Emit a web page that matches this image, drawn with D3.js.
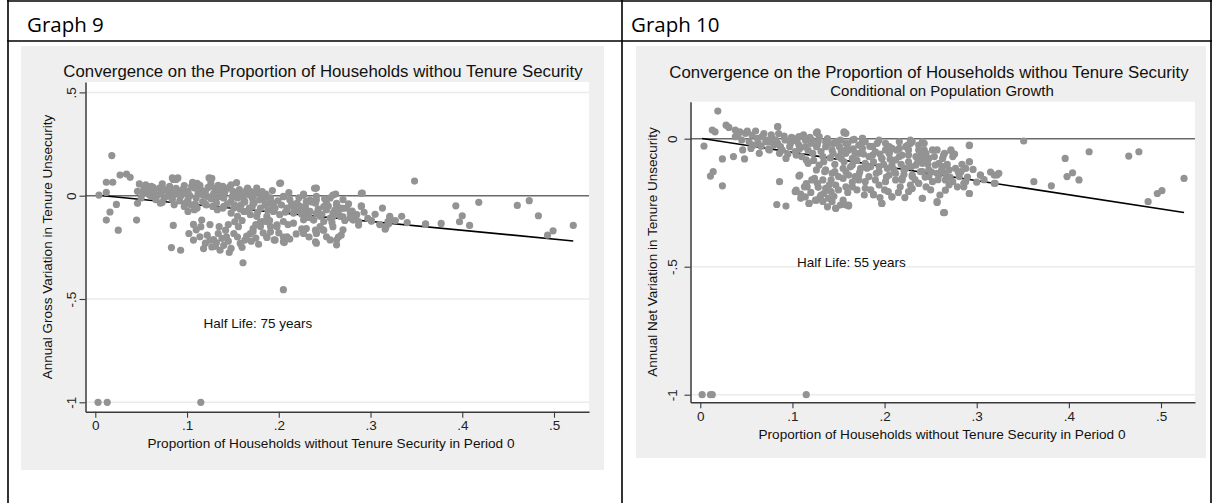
<!DOCTYPE html>
<html><head><meta charset="utf-8">
<script src="https://cdn.jsdelivr.net/npm/d3@7"></script>
<style>body{margin:0;background:#fff}svg{display:block}</style>
</head><body><svg id="c" width="1217" height="503"></svg>
<script>
const headers = ["Graph 9", "Graph 10"];
const chartTitle = "Convergence on the Proportion of Households withou Tenure Security";
const g10Subtitle = "Conditional on Population Growth";
const xTitle = "Proportion of Households without Tenure Security in Period 0";
const g9YTitle = "Annual Gross Variation in Tenure Unsecurity";
const g10YTitle = "Annual Net Variation in Tenure Unsecurity";
const xTicks = [0, .1, .2, .3, .4, .5];
const xTickLabels = ["0", ".1", ".2", ".3", ".4", ".5"];
const g9YTicks = [.5, 0, -.5, -1];
const g9YTickLabels = [".5", "0", "-.5", "-1"];
const g10YTicks = [0, -.5, -1];
const g10YTickLabels = ["0", "-.5", "-1"];
const g9Note = ["Half Life: 75 years", .118, -.618];
const g10Note = ["Half Life: 55 years", .105, -.484];
const g9Fit = [[.003, .002], [.521, -.219]];
const g10Fit = [[.002, .001], [.525, -.288]];

const g9Points = [
[.018,.194],[.004,.003],[.012,.065],[.019,.065],[.027,.100],[.034,.105],[.038,.089],[.012,.016],[.023,-.042],[.016,-.079],[.012,-.118],[.025,-.167],[.045,-.118],[.046,-.037],[.073,-.032],[.085,.079],[.088,.079],[.085,-.144],[.083,-.251],[.093,-.264],[.107,-.139],[.116,-.118],[.102,-.183],[.107,-.215],[.114,-.199],[.122,-.191],[.111,.060],[.125,.084],[.127,.084],
[.118,-.256],[.127,-.248],[.132,-.228],[.136,-.264],[.146,-.275],[.138,-.207],[.129,-.212],[.134,-.183],[.142,-.167],[.143,-.199],[.151,-.183],[.152,-.126],[.156,-.150],[.158,-.231],[.163,-.215],[.169,-.183],[.172,-.159],[.161,-.325],
[.154,.063],[.156,-.005],[.165,.028],[.172,-.005],[.180,.011],[.189,-.037],[.187,-.005],[.194,-.053],[.201,.060],[.205,-.005],[.209,-.070],[.216,-.053],[.227,.003],[.230,-.070],[.234,-.021],[.240,.036],[.241,-.086],
[.187,-.199],[.191,-.175],[.196,-.215],[.205,-.223],[.209,-.199],[.187,-.126],[.198,-.150],[.180,-.126],[.227,-.183],[.230,-.159],[.240,-.167],[.240,-.223],
[.205,-.455],
[.202,.061],[.241,.037],[.262,.008],[.291,.013],[.227,.008],[.176,.037],[.186,.008],[.290,-.052],[.285,-.092],[.278,-.108],[.287,-.125],[.301,-.121],[.321,-.100],[.319,-.125],[.316,-.162],[.360,-.136],[.241,-.181],[.256,-.214],[.265,-.200],[.263,-.238],[.241,-.230],[.248,-.165],[.187,-.202],[.195,-.214],[.205,-.200],[.206,-.227],[.270,-.165],[.172,-.173],[.180,-.149],
[.267,-.100],[.259,-.084],[.252,-.068],[.245,-.100],[.238,-.117],[.234,-.076],[.223,-.052],[.216,-.084],[.209,-.060],[.201,-.092],[.194,-.076],[.187,-.100],[.180,-.060],[.212,-.019],[.220,-.036],[.230,-.028],[.240,-.036],[.252,-.036],[.263,-.044],[.270,-.019],[.274,-.060],[.256,-.108],[.249,-.125],[.227,-.117],[.216,-.133],[.205,-.125],[.198,-.141],[.191,-.149],[.183,-.125],[.176,-.100],[.172,-.036],[.171,-.003],[.183,-.019],[.194,-.036],[.205,-.003],[.256,-.011],[.241,-.003],[.267,-.060],
[.048,.057],[.055,.053],[.061,.045],[.073,.057],[.084,.086],[.090,.086],[.097,.049],[.106,.065],[.124,.086],[.126,.061],[.139,.045],[.148,.053],[.166,.037],
[.046,.021],[.052,.013],[.057,.029],[.064,.021],[.070,.037],[.077,.029],[.082,.021],[.090,.013],[.095,.029],[.101,.021],[.108,.037],[.115,.029],[.120,.021],[.130,.037],[.135,.021],[.142,.029],[.150,.021],[.157,.029],[.162,.013],[.169,.021],
[.050,-.011],[.061,-.003],[.066,-.019],[.075,-.011],[.084,-.019],[.093,-.003],[.101,-.019],[.110,-.011],[.117,-.028],[.122,-.003],[.131,-.019],[.140,-.011],[.148,-.028],[.155,-.011],[.162,-.019],[.171,-.011],
[.071,-.036],[.086,-.044],[.097,-.052],[.104,-.044],[.111,-.060],[.119,-.036],[.128,-.052],[.133,-.068],[.140,-.052],[.151,-.060],[.159,-.044],[.168,-.060],[.173,-.036],[.148,-.084],[.155,-.100],[.162,-.076],[.169,-.092],[.108,-.068],[.101,-.076],
[.348,.071],[.393,-.049],[.418,-.032],[.400,-.097],[.397,-.126],[.408,-.144],[.360,-.139],[.377,-.134],[.460,-.047],[.473,-.024],[.483,-.097],[.493,-.191],[.499,-.170],[.521,-.144],[.320,-.134],[.301,-.123],[.290,-.049],[.290,.011],[.317,-.150],[.321,-.107],
[.227,.003],[.239,.036],[.241,-.021],[.249,-.053],[.259,.003],[.263,-.037],[.270,-.061],[.278,-.086],[.281,-.118],[.287,-.142],[.259,-.150],[.252,-.199],[.263,-.215],[.268,-.191],[.241,-.183],[.249,-.167],[.230,-.094],[.238,-.118],[.223,-.070],[.270,-.102],[.259,-.102],
[.053,.035],[.059,.005],[.063,.040],[.068,.003],[.072,.015],[.079,-.002],[.081,.045],[.086,.005],[.088,.035],[.092,-.025],[.096,.010],[.099,-.035],[.103,.000],[.105,.045],[.109,-.040],[.112,.010],[.114,.050],[.117,.005],[.121,-.045],[.123,.040],[.126,-.015],[.129,.010],[.132,-.035],[.134,.050],[.137,-.005],[.139,-.060],[.141,.015],[.144,-.040],[.146,.040],[.149,-.005],[.152,-.045],[.154,.010],[.158,-.065],[.160,.000],[.163,-.030],[.166,-.075],[.168,.005],[.171,-.055],[.174,.015],[.177,-.080],[.179,-.020],[.182,.020],[.185,-.045],[.188,-.070],[.191,-.010],[.193,.025],[.196,-.060],[.199,-.025],[.203,-.045],[.207,-.080],[.211,.015],[.214,-.040],[.218,-.070],[.222,-.010],[.225,-.090],[.229,-.050],[.233,-.105],[.236,-.030],[.243,-.065],[.247,-.090],[.250,-.015],[.254,-.050],[.258,-.130],[.261,-.070],[.265,-.085],[.272,-.120],[.276,-.040],[.280,-.075],[.283,-.100],[.293,-.080],[.297,-.110],[.305,-.090],[.310,-.140],[.313,-.060],[.327,-.120],[.334,-.100],[.340,-.130],
[.120,-.230],[.125,-.215],[.131,-.245],[.140,-.240],[.145,-.220],[.148,-.255],[.155,-.200],[.160,-.250],[.165,-.195],[.170,-.220],[.175,-.205],[.178,-.235],[.183,-.180],[.200,-.180],[.212,-.210],[.219,-.185],[.225,-.160],[.233,-.200],[.245,-.150],[.110,-.165],[.115,-.150],[.125,-.140],[.135,-.150],[.145,-.140],[.160,-.120],[.175,-.140],[.190,-.120],[.210,-.140],
[.003,-1],[.013,-1],[.115,-1]
];

const g10Points = [
[.019,.108],[.013,.034],[.016,.027],[.004,-.029],[.024,-.079],[.011,-.146],[.014,-.129],[.024,-.184],[.028,.053],[.031,.044],[.036,-.070],[.046,-.044],[.048,-.079],[.055,-.038],[.084,.047],[.086,-.168],[.083,-.257],[.093,-.263],[.107,-.146],[.103,-.207],[.109,-.216],[.114,-.227],[.116,-.188],[.121,-.161],[.127,-.174],[.118,-.253],[.125,-.240],[.130,-.227],[.134,-.214],[.136,-.194],[.139,-.233],[.143,-.246],[.147,-.272],[.152,-.259],[.161,-.259],[.156,.027],[.107,-.025],[.114,-.031],[.121,-.005],[.129,.008],[.136,-.012],[.127,.027],[.143,-.044],[.150,-.070],[.158,-.057],[.165,-.077],[.172,-.057],[.176,.001],
[.038,.034],[.043,.027],[.049,.021],[.056,.014],[.062,.001],[.067,.008],[.072,-.005],[.078,.001],[.038,.008],[.045,-.005],[.053,-.012],[.063,-.018],[.071,-.012],[.080,-.025],[.087,-.031],[.092,-.005],[.098,-.018],[.101,.001],[.107,.008],[.114,-.005],[.120,-.018],[.127,-.025],[.136,-.031],[.145,-.018],[.152,-.005],[.158,-.018],[.165,-.005],[.172,-.025],[.179,-.012],[.187,-.031],[.194,-.005],[.201,-.018],[.208,-.038],[.216,-.012],[.223,-.031],[.230,-.012],[.237,-.025],[.243,-.044],
[.187,-.064],[.197,-.077],[.205,-.057],[.216,-.070],[.226,-.064],[.237,-.083],[.243,-.077],[.179,-.096],[.194,-.109],[.208,-.103],[.223,-.116],[.234,-.103],[.241,-.129],[.205,-.142],[.219,-.161],[.230,-.148],[.237,-.174],[.188,-.220],[.197,-.253],[.208,-.227],[.217,-.188],[.226,-.207],[.179,-.168],[.168,-.148],[.158,-.129],[.150,-.148],[.143,-.135],[.136,-.122],[.129,-.103],[.228,-.005],
[.158,.021],[.167,-.003],[.176,.001],[.176,-.012],[.228,-.018],[.243,-.018],[.292,-.025],[.265,-.057],[.272,-.044],[.274,-.070],[.263,-.077],[.292,-.090],[.288,-.116],[.281,-.148],[.286,-.174],[.292,-.214],[.304,-.142],[.319,-.142],[.324,-.135],[.319,-.174],[.241,-.233],[.257,-.246],[.265,-.289],[.161,-.263],[.197,-.253],[.188,-.217],[.208,-.227],[.204,-.207],
[.179,-.194],[.194,-.181],[.245,-.188],[.252,-.168],[.266,-.201],[.274,-.168],[.279,-.188],[.266,-.161],[.259,-.142],[.248,-.148],[.237,-.174],[.228,-.181],[.219,-.155],[.212,-.161],[.201,-.168],[.190,-.161],[.172,-.161],[.165,-.188],
[.161,-.044],[.168,-.057],[.176,-.038],[.183,-.070],[.190,-.051],[.197,-.077],[.205,-.057],[.212,-.083],[.219,-.064],[.226,-.090],[.234,-.070],[.241,-.096],[.248,-.077],[.255,-.103],[.263,-.109],[.270,-.122],[.277,-.116],[.283,-.129],[.165,-.103],[.174,-.116],[.185,-.109],[.194,-.129],[.203,-.116],[.212,-.135],[.221,-.122],[.230,-.142],[.239,-.129],[.248,-.122],[.257,-.135],[.266,-.135],[.161,-.142],[.172,-.142],[.183,-.148],[.237,-.044],[.245,-.057],[.252,-.044],[.259,-.096],[.205,-.031],[.216,-.038],[.226,-.044],[.192,-.018],[.201,-.044],
[.108,-.142],[.117,-.096],[.113,-.188],[.104,-.201],[.109,-.233],[.118,-.253],[.126,-.240],[.131,-.220],[.137,-.201],[.142,-.207],[.147,-.181],[.138,-.266],[.147,-.272],[.158,-.259],[.124,-.155],[.133,-.161],[.142,-.161],[.155,-.155],[.158,-.188],[.126,-.122],[.135,-.129],[.146,-.129],[.155,-.116],
[.064,-.057],[.075,-.044],[.086,-.057],[.093,-.077],[.104,-.064],[.115,-.083],[.122,-.057],[.133,-.070],[.144,-.057],[.153,-.077],[.126,-.031],[.140,-.018],[.151,-.031],[.158,-.044],[.108,-.038],[.097,-.031],[.084,-.018],[.075,-.012],[.156,.023],[.126,.023],[.084,.047],
[.351,-.009],[.396,-.077],[.422,-.051],[.398,-.148],[.404,-.133],[.411,-.161],[.362,-.168],[.381,-.184],[.465,-.068],[.476,-.051],[.486,-.246],[.496,-.214],[.501,-.203],[.525,-.155],[.304,-.142],[.322,-.142],[.320,-.174],[.292,-.027],[.292,-.090],[.292,-.214],[.286,-.188],[.288,-.168],[.272,-.047],[.264,-.064],[.257,-.044],[.241,-.012],[.228,-.018],[.264,-.289],[.257,-.249],[.241,-.233],
[.041,.015],[.051,.030],[.058,-.025],[.060,.030],[.066,-.030],[.069,.020],[.074,-.040],[.077,.015],[.082,-.005],[.085,.020],[.089,-.045],[.091,.010],[.095,-.060],[.099,.005],[.103,-.050],[.105,-.010],[.110,-.070],[.112,.015],[.117,-.045],[.119,.005],[.123,-.085],[.128,-.010],[.131,-.050],[.134,-.090],[.138,.000],[.141,-.075],[.146,-.100],[.148,-.010],[.153,-.050],[.156,-.090],[.160,-.020],[.163,-.110],[.166,-.040],[.170,-.085],[.173,-.130],[.177,-.060],[.181,-.115],[.184,-.030],[.188,-.090],[.191,-.135],[.195,-.060],[.199,-.100],[.202,-.150],[.206,-.080],[.210,-.120],[.213,-.045],[.218,-.100],[.221,-.140],[.225,-.025],[.229,-.110],[.233,-.160],[.236,-.090],[.240,-.060],[.244,-.150],[.247,-.100],[.251,-.130],[.254,-.070],[.258,-.160],[.262,-.120],[.268,-.100],[.271,-.150],[.276,-.060],[.280,-.130],[.284,-.100],[.290,-.150],[.296,-.120],[.300,-.170],[.308,-.160],[.315,-.130],
[.115,-.175],[.120,-.210],[.128,-.190],[.133,-.245],[.140,-.180],[.145,-.225],[.150,-.200],[.155,-.240],[.160,-.210],[.165,-.170],[.170,-.200],[.178,-.220],[.185,-.200],[.195,-.230],[.200,-.200],[.215,-.210],[.222,-.230],[.230,-.195],[.250,-.200],[.260,-.220],[.270,-.180],
[.002,-1],[.011,-1],[.013,-1],[.115,-1]
];

const svg = d3.select("#c");
const FONT = "'Liberation Sans', Arial, Helvetica, sans-serif";

// table frame
const frame = svg.append("g").attr("stroke", "#000").attr("stroke-width", 1.6);
frame.append("line").attr("x1", 7).attr("x2", 1212).attr("y1", 1).attr("y2", 1);
frame.append("line").attr("x1", 7).attr("x2", 1212).attr("y1", 41).attr("y2", 41);
frame.append("line").attr("x1", 8).attr("x2", 8).attr("y1", 0).attr("y2", 503);
frame.append("line").attr("x1", 622).attr("x2", 622).attr("y1", 0).attr("y2", 503);
frame.append("line").attr("x1", 1211).attr("x2", 1211).attr("y1", 0).attr("y2", 503);
svg.selectAll("text.hdr").data(headers).join("text").attr("class", "hdr")
  .attr("x", (d, i) => i ? 631 : 27).attr("y", 32)
  .attr("font-family", "'Open Sans', 'Noto Sans', sans-serif").attr("font-size", 20.5).attr("fill", "#000")
  .text(d => d);

function panel(cfg) {
  const g = svg.append("g");
  g.append("rect").attr("x", cfg.bg[0]).attr("y", cfg.bg[1]).attr("width", cfg.bg[2]).attr("height", cfg.bg[3]).attr("fill", "#efefef");
  const x = d3.scaleLinear().domain([0, .5]).range(cfg.xr);
  x.domain([x.invert(cfg.plot.l), x.invert(cfg.plot.r)]).range([cfg.plot.l, cfg.plot.r]);
  const y = d3.scaleLinear().domain([0, -1]).range(cfg.yr);
  y.domain([y.invert(cfg.plot.b), y.invert(cfg.plot.t)]).range([cfg.plot.b, cfg.plot.t]);
  g.append("rect").attr("x", cfg.plot.l).attr("y", cfg.plot.t).attr("width", cfg.plot.r - cfg.plot.l).attr("height", cfg.plot.b - cfg.plot.t).attr("fill", "#fff");
  g.selectAll("line.grid").data(cfg.yTicks.filter(v => v !== 0)).join("line").attr("class", "grid")
    .attr("x1", cfg.plot.l).attr("x2", cfg.plot.r).attr("y1", d => y(d)).attr("y2", d => y(d))
    .attr("stroke", "#ebebeb").attr("stroke-width", 1.5);
  g.append("line").attr("x1", cfg.plot.l).attr("x2", cfg.plot.r).attr("y1", y(0)).attr("y2", y(0))
    .attr("stroke", "#6a6a6a").attr("stroke-width", 1.5);
  g.append("path").datum(cfg.fit).attr("d", d3.line().x(d => x(d[0])).y(d => y(d[1])))
    .attr("stroke", "#000").attr("stroke-width", 1.6).attr("fill", "none");
  g.selectAll("circle").data(cfg.points).join("circle")
    .attr("cx", d => x(d[0])).attr("cy", d => y(d[1])).attr("r", 3.6).attr("fill", "#939393");
  const xa = g.append("g").attr("transform", `translate(0,${cfg.plot.b})`)
    .call(d3.axisBottom(x).tickValues(xTicks).tickFormat((d, i) => xTickLabels[i]).tickSize(6).tickSizeOuter(0).tickPadding(3));
  const ya = g.append("g").attr("transform", `translate(${cfg.plot.l},0)`)
    .call(d3.axisLeft(y).tickValues(cfg.yTicks).tickFormat((d, i) => cfg.yLabels[i]).tickSize(6).tickSizeOuter(0));
  [xa, ya].forEach(a => {
    a.select(".domain").attr("stroke", "#3a3a3a").attr("stroke-width", 1.5);
    a.selectAll(".tick line").attr("stroke", "#3a3a3a").attr("stroke-width", 1.1);
    a.selectAll("text").attr("font-family", FONT).attr("font-size", 13.5).attr("fill", "#222");
  });
  ya.selectAll(".tick text").attr("x", null).attr("dy", null)
    .attr("transform", `translate(${cfg.tickLabelX - cfg.plot.l},0) rotate(-90)`)
    .attr("text-anchor", "middle").attr("dominant-baseline", "central");
  g.append("text").attr("x", cfg.title[0]).attr("y", cfg.title[1]).attr("text-anchor", "middle")
    .attr("font-family", FONT).attr("font-size", 16.8).attr("fill", "#111").text(chartTitle);
  if (cfg.subtitle) g.append("text").attr("x", cfg.subtitle[0]).attr("y", cfg.subtitle[1]).attr("text-anchor", "middle")
    .attr("font-family", FONT).attr("font-size", 15).attr("fill", "#111").text(g10Subtitle);
  g.append("text").attr("x", cfg.xTitle[0]).attr("y", cfg.xTitle[1]).attr("text-anchor", "middle")
    .attr("font-family", FONT).attr("font-size", 13.6).attr("fill", "#111").text(xTitle);
  g.append("text").attr("transform", `translate(${cfg.yTitle[0]},${cfg.yTitle[1]}) rotate(-90)`)
    .attr("text-anchor", "middle").attr("dominant-baseline", "central")
    .attr("font-family", FONT).attr("font-size", 13.5).attr("fill", "#111").text(cfg.yTitleText);
  g.append("text").attr("x", x(cfg.note[1])).attr("y", y(cfg.note[2])).attr("dominant-baseline", "central")
    .attr("font-family", FONT).attr("font-size", 13.5).attr("fill", "#111").text(cfg.note[0]);
}

panel({
  bg: [21, 46, 583, 424], plot: {l: 85.5, r: 589, t: 82, b: 411.7},
  xr: [95.3, 554], yr: [195.7, 402.3], yTicks: g9YTicks, yLabels: g9YTickLabels, tickLabelX: 71,
  title: [323, 77], xTitle: [331, 448], yTitle: [47, 247], yTitleText: g9YTitle,
  note: g9Note, fit: g9Fit, points: g9Points
});
panel({
  bg: [636, 46, 570, 412], plot: {l: 690.5, r: 1195, t: 101.7, b: 402.3},
  xr: [700.3, 1161], yr: [138.7, 394.7], yTicks: g10YTicks, yLabels: g10YTickLabels, tickLabelX: 672,
  title: [929, 78], subtitle: [942, 96], xTitle: [942, 439], yTitle: [652, 252], yTitleText: g10YTitle,
  note: g10Note, fit: g10Fit, points: g10Points
});
</script></body></html>
